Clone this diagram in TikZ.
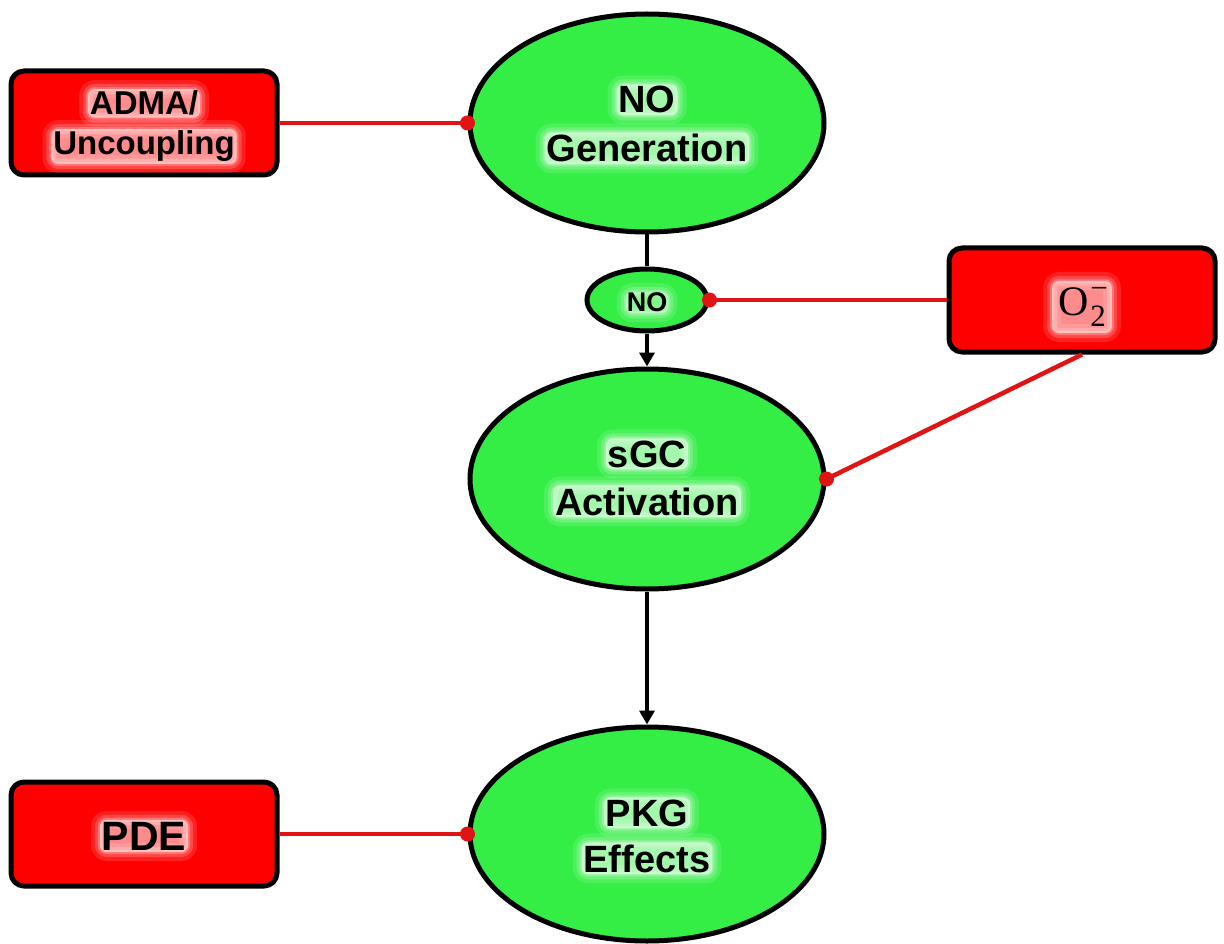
\documentclass[tikz,border=0pt]{standalone}
\usepackage{fontspec}
\setmainfont{Liberation Sans}
\newfontfamily\seriffont{Liberation Serif}
\usetikzlibrary{shapes.geometric,arrows.meta}
\definecolor{lgreen}{RGB}{52,238,70}
\definecolor{bred}{RGB}{255,0,0}
\definecolor{lred}{RGB}{224,20,20}
\tikzset{
  oval/.style={ellipse,draw=black,line width=5pt,fill=lgreen,inner sep=0pt},
  redbox/.style={rectangle,rounded corners=13pt,draw=black,line width=5pt,fill=bred,minimum width=266pt,minimum height=104pt,inner sep=0pt},
  glow/.style={anchor=base,fill=white,fill opacity=0.55,text opacity=1,rounded corners=7pt,inner sep=2pt,
    preaction={draw=white,draw opacity=0.12,line width=18pt},
    preaction={draw=white,draw opacity=0.18,line width=10pt},
    preaction={draw=white,draw opacity=0.25,line width=4pt}},
  big/.style={font=\bfseries\fontsize{38}{44}\selectfont},
  inhib/.style={draw=lred,line width=4.5pt},
  act/.style={draw=black,line width=4pt},
  actarrow/.style={act,-{Triangle[length=14pt,width=15pt]}},
  rdot/.style={circle,fill=lred,inner sep=0pt,minimum size=15pt}
}
\begin{document}
\begin{tikzpicture}[x=1pt,y=-1pt]
\useasboundingbox (0,0) rectangle (1224,944);
% shapes
\node[oval,minimum width=354pt,minimum height=218pt] (gen) at (647,123) {};
\node[oval,minimum width=120pt,minimum height=62pt] (no) at (647,300) {};
\node[oval,minimum width=354pt,minimum height=220pt] (sgc) at (647,479) {};
\node[oval,minimum width=354pt,minimum height=214pt] (pkg) at (647,834) {};
\node[redbox] (adma) at (144,123) {};
\node[redbox] (o2) at (1082,300) {};
\node[redbox] (pde) at (144,834) {};
% connectors
\draw[act] (gen.south) -- (no.north);
\draw[actarrow] (no.south) -- (sgc.north);
\draw[actarrow] (sgc.south) -- (pkg.north);
\draw[inhib] (adma.east) -- (gen.west);
\draw[inhib] (o2.west) -- (no.east);
\draw[inhib] (o2.south) -- (sgc.east);
\draw[inhib] (pde.east) -- (pkg.west);
\node[rdot] (d1) at (gen.west) {};
\node[rdot] (d2) at (no.east) {};
\node[rdot] (d3) at (sgc.east) {};
\node[rdot] (d4) at (pkg.west) {};
% labels
\node[glow,big] (tgen1) at ([yshift=10pt]gen.center) {NO};
\node[glow,big] (tgen2) at ([yshift=-39pt]gen.center) {Generation};
\node[glow,big] (tsgc1) at ([yshift=12pt]sgc.center) {sGC};
\node[glow,big] (tsgc2) at ([yshift=-36pt]sgc.center) {Activation};
\node[glow,big] (tpkg1) at ([yshift=8pt]pkg.center) {PKG};
\node[glow,big] (tpkg2) at ([yshift=-38pt]pkg.center) {Effects};
\node[glow,font=\bfseries\fontsize{27}{30}\selectfont,inner sep=1pt,fill opacity=0.35] (tno) at ([yshift=-12pt]no.center) {NO};
\node[glow,font=\bfseries\fontsize{33}{38}\selectfont] (tadma1) at ([yshift=8pt]adma.center) {ADMA/};
\node[glow,font=\bfseries\fontsize{33}{38}\selectfont] (tadma2) at ([yshift=-32pt]adma.center) {Uncoupling};
\node[glow,font=\bfseries\fontsize{41}{46}\selectfont] (tpde) at ([yshift=-16pt]pde.center) {PDE};
\node[glow,font=\seriffont\fontsize{42}{46}\selectfont,inner sep=6pt] (to2) at ([yshift=-15pt]o2.center) {O\kern2pt\rlap{\raisebox{17pt}{\fontsize{31}{31}\selectfont −}}\raisebox{-12pt}{\fontsize{31}{31}\selectfont 2}};
\end{tikzpicture}
\end{document}
